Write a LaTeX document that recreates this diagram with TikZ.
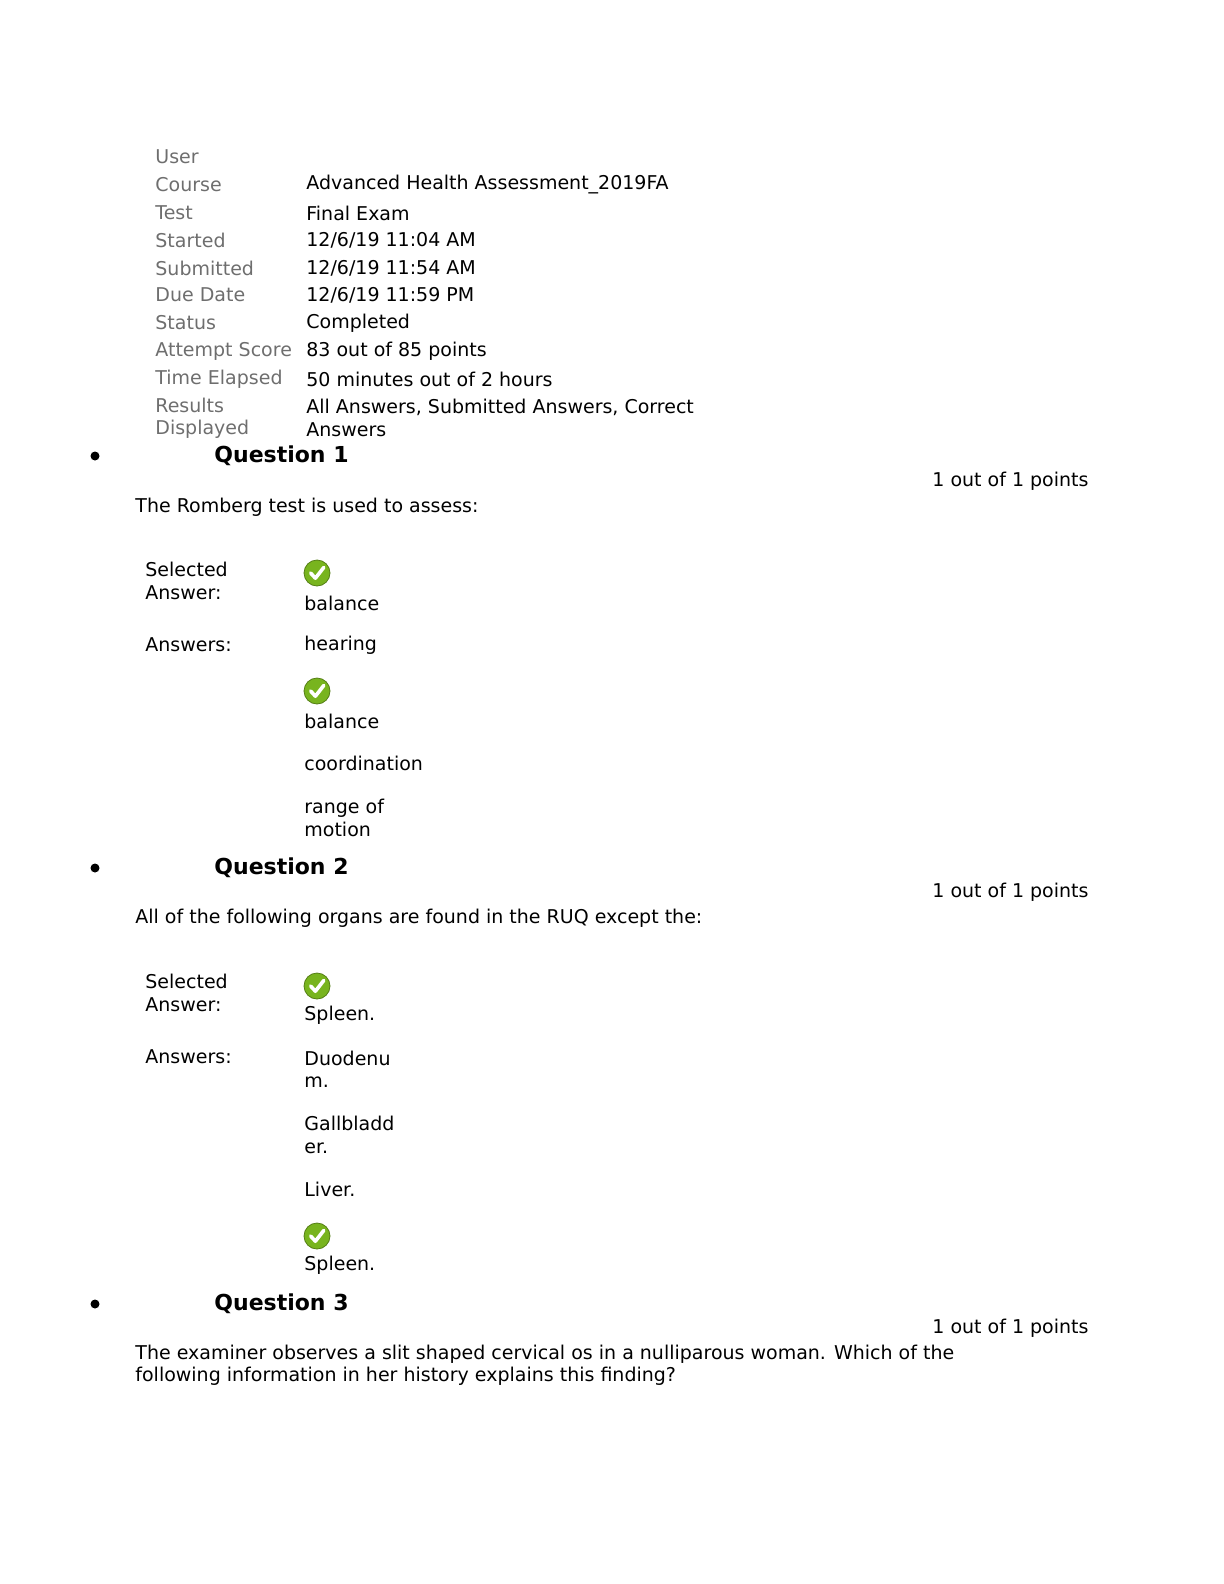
\documentclass[tikz,border=0pt]{standalone}
\usepackage{fontspec}
\setmainfont{DejaVu Sans}
\definecolor{labelgray}{RGB}{110,110,110}
\definecolor{okgreen}{RGB}{120,180,30}
\tikzset{
  txt/.style={anchor=west, inner sep=0pt, font=\fontsize{9.5}{11}\selectfont},
  meta/.style={txt, text=labelgray},
  qhead/.style={anchor=west, inner sep=0pt, font=\fontsize{11}{13}\selectfont\bfseries},
  bullet/.style={circle, fill=black, inner sep=0pt, minimum size=4.5pt},
  two/.style={txt, align=left, font=\fontsize{9.5}{11.2}\selectfont}
}
\newcommand{\okmark}[2]{%
  \node[circle, fill=okgreen, draw=okgreen!70!black, inner sep=0pt, minimum size=13pt] (#1) at #2 {};
  \draw[white, line width=1.8pt, line cap=round, line join=round]
    ([shift={(-3.2pt,0pt)}]#1.center) -- ([shift={(-0.8pt,-2.6pt)}]#1.center) -- ([shift={(3.4pt,2.8pt)}]#1.center);}
\begin{document}
\begin{tikzpicture}[x=0.5pt, y=-0.5pt]
\useasboundingbox (0,0) rectangle (1224,1584);
% header table
\node[meta] (uL) at (155,157) {User};
\node[meta] (cL) at (155,185) {Course};
\node[txt] (cV) at (306,185) {Advanced Health Assessment\_2019FA};
\node[meta] (tL) at (155,213) {Test};
\node[txt] (tV) at (306,213) {Final Exam};
\node[meta] (sL) at (155,240) {Started};
\node[txt] (sV) at (306,240) {12/6/19 11:04 AM};
\node[meta] (subL) at (155,268) {Submitted};
\node[txt] (subV) at (306,268) {12/6/19 11:54 AM};
\node[meta] (dL) at (155,295) {Due Date};
\node[txt] (dV) at (306,295) {12/6/19 11:59 PM};
\node[meta] (stL) at (155,323) {Status};
\node[txt] (stV) at (306,323) {Completed};
\node[meta] (aL) at (155,351) {Attempt Score};
\node[txt] (aV) at (306,351) {83 out of 85 points};
\node[meta] (eL) at (155,379) {Time Elapsed};
\node[txt] (eV) at (306,379) {50 minutes out of 2 hours};
\node[meta, align=left] (rL) at (155,418) {Results\\Displayed};
\node[two] (rV) at (306,418) {All Answers, Submitted Answers, Correct\\Answers};
% question 1
\node[bullet] (b1) at (95,456) {};
\node[qhead] (q1) at (214,456) {Question 1};
\node[txt] (p1) at (932,481) {1 out of 1 points};
\node[txt] (t1) at (135,507) {The Romberg test is used to assess:};
\node[two] (sa1) at (145,581) {Selected\\Answer:};
\okmark{k1}{(317,573)}
\node[txt] (s1) at (304,603) {balance};
\node[txt] (an1) at (145,645) {Answers:};
\node[txt] (a11) at (304,645) {hearing};
\okmark{k2}{(317,691)}
\node[txt] (a12) at (304,721) {balance};
\node[txt] (a13) at (304,763) {coordination};
\node[two] (a14) at (304,818) {range of\\motion};
% question 2
\node[bullet] (b2) at (95,868) {};
\node[qhead] (q2) at (214,868) {Question 2};
\node[txt] (p2) at (932,892) {1 out of 1 points};
\node[txt] (t2) at (135,918) {All of the following organs are found in the RUQ except the:};
\node[two] (sa2) at (145,993) {Selected\\Answer:};
\okmark{k3}{(317,986)}
\node[txt] (s2) at (304,1015) {Spleen.};
\node[txt] (an2) at (145,1057) {Answers:};
\node[two] (a21) at (304,1069) {Duodenu\\m.};
\node[two] (a22) at (304,1135) {Gallbladd\\er.};
\node[txt] (a23) at (304,1189) {Liver.};
\okmark{k4}{(317,1236)}
\node[txt] (a24) at (304,1265) {Spleen.};
% question 3
\node[bullet] (b3) at (95,1304) {};
\node[qhead] (q3) at (214,1304) {Question 3};
\node[txt] (p3) at (932,1328) {1 out of 1 points};
\node[two] (t3) at (135,1365) {The examiner observes a slit shaped cervical os in a nulliparous woman. Which of the\\following information in her history explains this finding?};
\end{tikzpicture}
\end{document}
